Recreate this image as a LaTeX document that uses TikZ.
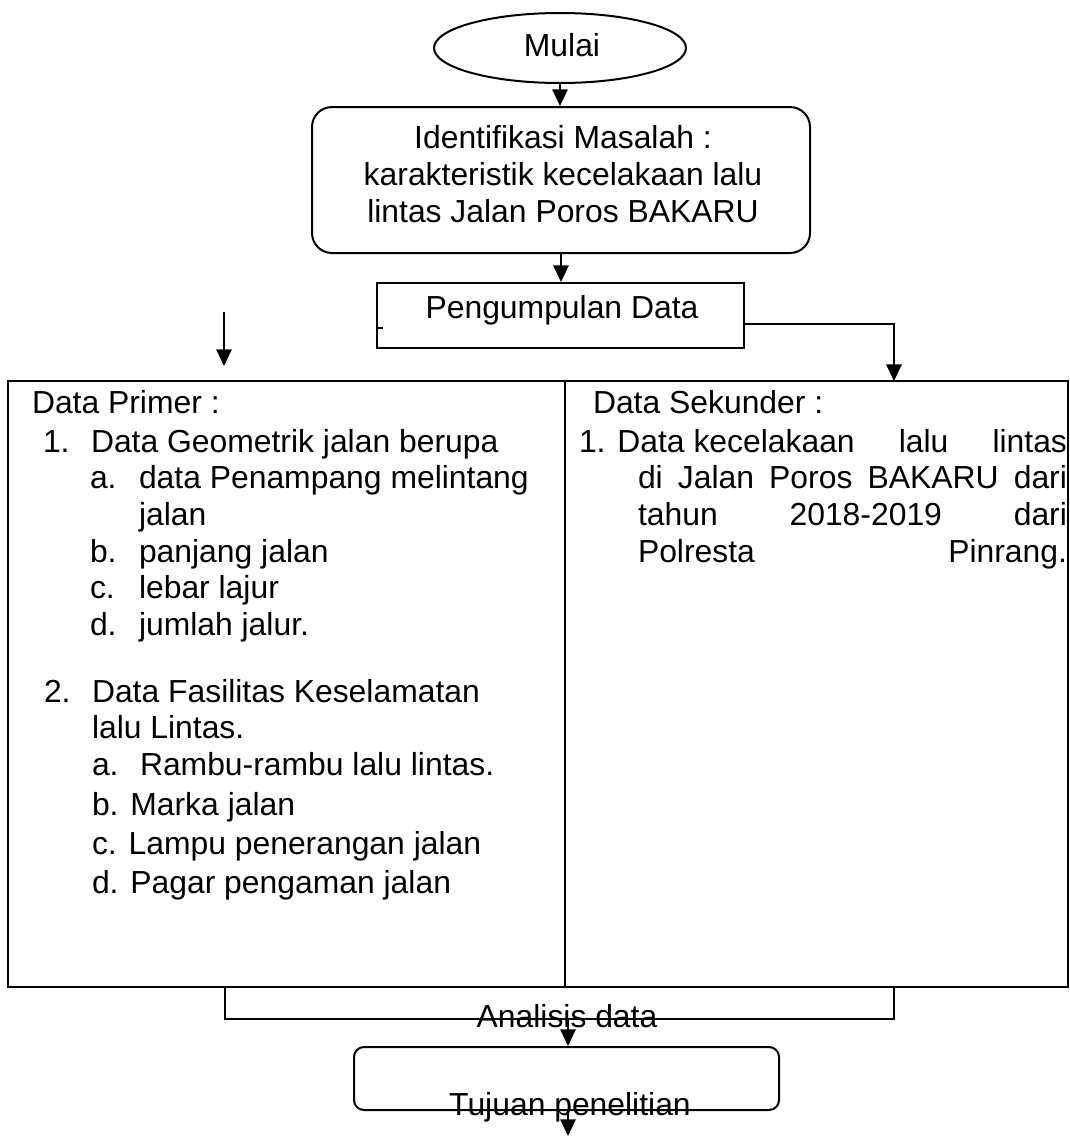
\documentclass[tikz,border=0pt]{standalone}
\usepackage{fontspec}
\setmainfont{Liberation Sans}
\usetikzlibrary{arrows.meta,shapes.geometric,fit}
\begin{document}
\begin{tikzpicture}[x=0.75pt,y=-0.75pt,
  line width=1.5pt,
  arr/.style={-{Triangle[length=12.5pt,width=11.5pt]}},
  txt/.style={inner sep=0pt,font=\fontsize{23.9pt}{29pt}\selectfont},
  lt/.style={txt,anchor=base west},
  ct/.style={txt,anchor=base},
  boxr/.style={draw,inner sep=0pt},
]
\useasboundingbox (0,0) rectangle (1070,1136);

% shapes
\node[draw,ellipse,minimum width=189pt,minimum height=52.5pt,inner sep=0pt] (mulai) at (560,48) {};
\node[boxr,rounded corners=15pt,fit={(312,107) (810,253)}] (idbox) {};
\node[boxr,fit={(377,283) (744,348)}] (pg) {};
\node[boxr,fit={(8,381) (565,987)}] (primer) {};
\node[boxr,fit={(565,381) (1068,987)}] (sekunder) {};
\node[boxr,rounded corners=7.5pt,fit={(354,1047) (779,1110)}] (tj) {};

% texts in top part
\node[ct] (tmulai) at (562,56) {Mulai};
\node[ct] (tid1) at (563,148) {Identifikasi Masalah :};
\node[ct] (tid2) at (563,185) {karakteristik kecelakaan lalu};
\node[ct] (tid3) at (563,222) {lintas Jalan Poros BAKARU};
\node[ct] (tpg) at (562,318) {Pengumpulan Data};
\draw[line width=1.5pt] (378,328) -- (383,328);

% Data Primer
\node[lt] (p0) at (31,413) {Data Primer :};
\node[lt] (p1n) at (42,452) {1.};
\node[lt] (p1) at (90,452) {Data Geometrik jalan berupa};
\node[lt] (p1an) at (89,488) {a.};
\node[lt] (p1a) at (138,488) {data Penampang melintang};
\node[lt] (p1a2) at (138,525) {jalan};
\node[lt] (p1bn) at (89,562) {b.};
\node[lt] (p1b) at (138,562) {panjang jalan};
\node[lt] (p1cn) at (89,598) {c.};
\node[lt] (p1c) at (138,598) {lebar lajur};
\node[lt] (p1dn) at (89,635) {d.};
\node[lt] (p1d) at (138,635) {jumlah jalur.};
\node[lt] (p2n) at (43,702) {2.};
\node[lt] (p2) at (91,702) {Data Fasilitas Keselamatan};
\node[lt] (p22) at (91,738) {lalu Lintas.};
\node[lt] (p2an) at (91,775) {a.};
\node[lt] (p2a) at (139,775) {Rambu-rambu lalu lintas.};
\node[lt] (p2b) at (91,815) {b. Marka jalan};
\node[lt] (p2c) at (91,854) {c. Lampu penerangan jalan};
\node[lt] (p2d) at (91,893) {d. Pagar pengaman jalan};

% Data Sekunder
\node[lt] (s0) at (592,413) {Data Sekunder :};
\node[lt] (s1) at (578,452) {\makebox[366pt][s]{1. Data kecelakaan\hfill lalu\hfill lintas}};
\node[lt] (s2) at (637,488) {\makebox[321.75pt][s]{di Jalan Poros BAKARU dari}};
\node[lt] (s3) at (637,525) {\makebox[321.75pt][s]{tahun\hfill 2018-2019\hfill dari}};
\node[lt] (s4) at (637,562) {\makebox[321.75pt][s]{Polresta\hfill Pinrang.}};

% bottom texts
\node[ct] (tan) at (567,1027) {Analisis data};
\node[ct] (ttj) at (570,1115) {Tujuan penelitian};

% coordinates
\coordinate (lfa) at (224,312);
\coordinate (lfb) at (224,366);
\coordinate (pr) at (744,324);
\coordinate (sk) at (894,381);
\coordinate (bl) at (225,987);
\coordinate (br) at (894,987);
\coordinate (bm) at (568,1019);
\coordinate (fin) at (568,1136);

% connectors
\draw[arr] (mulai.south) -- (mulai.south |- idbox.north);
\draw[arr] (idbox.south) -- (idbox.south |- pg.north);
\draw[arr] (lfa) -- (lfb);
\draw[arr] (pr) -| (sk);
\draw (bl) |- (bm) -| (br);
\draw[arr] (bm) -- (bm |- tj.north);
\draw[arr] (tj.south -| fin) -- (fin);
\end{tikzpicture}
\end{document}
